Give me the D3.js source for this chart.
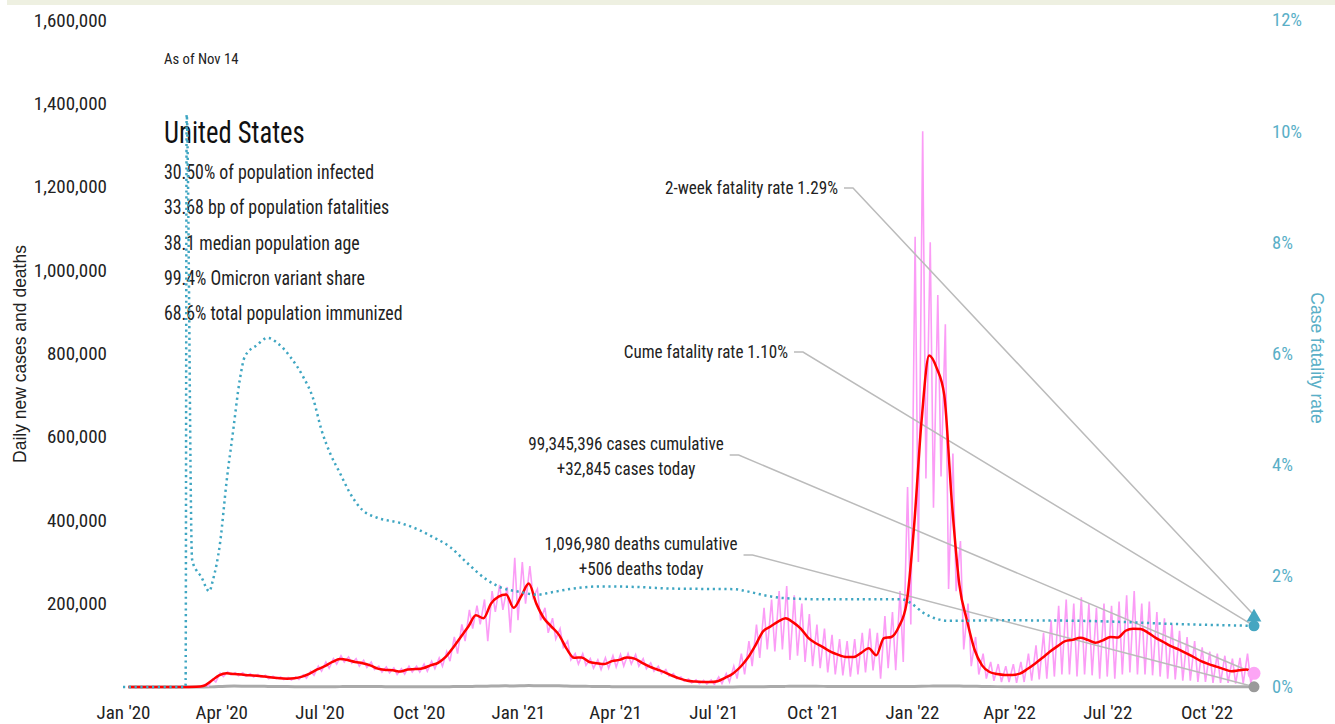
<!DOCTYPE html>
<html>
<head>
<meta charset="utf-8">
<script src="https://cdn.jsdelivr.net/npm/d3@7"></script>
<style>
  body { margin: 0; background: #fff; }
  text { font-family: "Liberation Sans Narrow", "Roboto Condensed", "DejaVu Sans Condensed", sans-serif; }
  .title { font-family: "Liberation Sans", Arial, sans-serif; }
</style>
</head>
<body>
<div id="chart"></div>
<script>
// ---- data (thousands, weekly from Mon 6 Jan 2020) ----
const casesAvg = [
  0,0,0,0,0,0,0,0,              // Jan-Feb 2020
  0.1,0.5,3,15,28,              // Mar
  33,31,30,28,                  // Apr
  27,25,23,21,                  // May
  20,21,25,32,42,               // Jun
  50,60,67,65,                  // Jul
  60,57,52,44,41,               // Aug
  40,37,42,43,                  // Sep
  45,52,58,72,                  // Oct
  95,120,145,172,165,           // Nov
  200,217,222,190,              // Dec
  218,248,200,165,              // Jan 2021
  145,125,92,70,                // Feb
  71,60,57,55,62,               // Mar
  65,71,68,58,                  // Apr
  49,42,35,27,20,               // May
  15,13,12,12,                  // Jun
  14,22,32,48,                  // Jul
  70,100,133,145,157,           // Aug
  165,155,140,118,              // Sep
  105,95,84,77,                 // Oct
  72,72,82,93,76,               // Nov
  117,120,145,200,              // Dec
  385,640,795,765,700,          // Jan 2022
  444,245,160,90,               // Feb
  52,36,31,29,                  // Mar
  29,32,43,56,                  // Apr
  70,85,98,110,113,             // May
  118,113,106,112,              // Jun
  120,119,135,140,              // Jul
  139,130,118,108,98,           // Aug
  90,81,72,62,                  // Sep
  55,49,43,38,40,               // Oct
  42,34                         // Nov
];

// daily cases: weekly high and weekly low (thousands)
const casesHigh = [
  0,0,0,0,0,0,0,0,
  0.3,1,6,19,33,
  36,34,34,32,
  30,28,26,24,
  23,24,29,38,50,
  60,68,75,72,
  68,64,60,50,48,
  46,44,50,50,
  55,62,70,85,
  120,150,185,195,210,
  230,245,240,310,
  300,290,235,190,
  165,140,110,80,
  80,68,65,70,75,
  78,80,78,68,
  58,50,42,32,24,
  19,17,16,17,
  24,32,50,80,
  110,150,190,210,230,
  242,220,200,175,
  150,140,125,115,
  110,115,130,140,130,
  170,180,230,480,
  1080,1333,1067,940,870,
  560,350,200,120,
  80,60,55,50,
  55,60,80,100,
  130,160,195,210,200,
  215,200,190,200,
  195,205,220,230,
  200,205,180,165,150,
  135,120,110,95,
  85,80,75,68,70,
  80
];
const casesLow = [
  0,0,0,0,0,0,0,0,
  0,0.3,2,12,25,
  29,27,26,24,
  23,20,20,18,
  17,18,21,28,38,
  45,55,60,57,
  50,47,42,36,34,
  30,31,36,36,
  38,44,50,62,
  80,110,140,150,110,
  180,185,130,160,
  200,215,160,130,
  115,95,65,55,
  52,45,42,45,48,
  50,55,50,44,
  38,32,26,20,14,
  10,8,7,6,
  8,12,20,30,
  50,70,90,85,90,
  65,75,60,50,
  45,35,30,28,
  25,30,35,40,20,
  45,40,60,150,
  300,500,430,505,235,
  230,90,50,30,
  20,15,12,12,
  10,12,15,18,
  20,25,30,30,25,
  30,28,20,25,
  20,30,35,30,
  30,28,25,20,18,
  15,15,12,12,
  10,10,10,8,8,
  10
];

const deathsAvg = [
  0,0,0,0,0,0,0,0,
  0,0.01,0.05,0.3,1.0,
  1.9,2.2,2.1,1.9,
  1.8,1.6,1.3,1.1,
  0.95,0.85,0.7,0.6,0.55,
  0.6,0.75,0.9,1.1,
  1.1,1.05,1.05,0.95,0.9,
  0.8,0.8,0.75,0.72,
  0.7,0.72,0.78,0.82,
  0.95,1.1,1.4,1.6,1.9,
  2.3,2.6,2.7,2.5,
  2.8,3.3,3.2,3.1,
  2.9,2.7,2.2,2.0,
  1.8,1.5,1.2,1.0,0.9,
  0.8,0.75,0.73,0.7,
  0.68,0.65,0.6,0.55,0.45,
  0.4,0.35,0.3,0.25,
  0.22,0.25,0.27,0.35,
  0.45,0.6,0.8,1.0,1.3,
  1.5,1.8,2.0,1.9,
  1.7,1.5,1.4,1.25,
  1.15,1.1,1.1,1.1,1.0,
  1.2,1.3,1.3,1.25,
  1.4,1.8,2.1,2.3,2.6,
  2.5,2.3,1.9,1.6,
  1.3,1.1,0.9,0.75,
  0.6,0.5,0.4,0.35,
  0.33,0.33,0.33,0.35,0.35,
  0.33,0.33,0.32,0.35,
  0.38,0.42,0.43,0.44,
  0.45,0.47,0.48,0.47,0.45,
  0.42,0.42,0.42,0.40,
  0.38,0.37,0.36,0.35,0.35,
  0.33,0.3
];

// case fatality rate (%)
const cfrDates = [
  "2020-01-01","2020-02-28","2020-02-29","2020-03-05","2020-03-09","2020-03-13",
  "2020-03-21","2020-03-24","2020-03-31","2020-04-06","2020-04-12","2020-04-18",
  "2020-04-23","2020-05-04","2020-05-14","2020-05-23","2020-06-04","2020-06-16",
  "2020-06-25","2020-07-03","2020-07-11","2020-07-20","2020-07-29","2020-08-10",
  "2020-08-23","2020-09-14","2020-10-02","2020-10-14","2020-10-30","2020-11-15",
  "2020-12-03","2020-12-15","2021-01-03","2021-01-19","2021-01-31","2021-02-21",
  "2021-03-18","2021-04-20","2021-05-25","2021-07-20","2021-08-04","2021-08-20",
  "2021-09-04","2021-10-06","2021-12-22","2021-12-31","2022-01-12","2022-01-25",
  "2022-02-03","2022-03-22","2022-06-08","2022-09-08","2022-11-14"
];
const cfrValues = [
  0,0,10.3,2.3,2.1,2.0,
  1.72,1.9,2.6,3.7,4.6,5.5,
  5.95,6.15,6.28,6.19,5.94,5.58,
  5.2,4.62,4.2,3.85,3.5,3.18,
  3.05,2.95,2.82,2.7,2.52,2.23,
  1.93,1.8,1.71,1.66,1.7,1.77,
  1.81,1.8,1.77,1.76,1.71,1.64,
  1.6,1.58,1.58,1.51,1.33,1.22,
  1.19,1.2,1.19,1.13,1.1
];

const yTicks = [200000, 400000, 600000, 800000, 1000000, 1200000, 1400000, 1600000];
const rTicks = [0, 2, 4, 6, 8, 10, 12];

const asOf = "As of Nov 14";
const country = "United States";
const stats = [
  "30.50% of population infected",
  "33.68 bp of population fatalities",
  "38.1 median population age",
  "99.4% Omicron variant share",
  "68.6% total population immunized"
];

const casesToday = 32845, casesCum = 99345396;
const deathsToday = 506, deathsCum = 1096980;
const cumeRate = 1.10, twoWeekRate = 1.29;

// ---- setup ----
const width = 1335, height = 724;
const parse = d3.timeParse("%Y-%m-%d");
const startDate = parse("2020-01-01");
const endDate = parse("2022-11-14");
const weekStart = parse("2020-01-06");

const svg = d3.select("#chart").append("svg")
  .attr("width", width)
  .attr("height", height);

svg.append("rect")
  .attr("x", 7).attr("y", 0)
  .attr("width", width - 7).attr("height", 5)
  .attr("fill", "#eef0e1");

const x = d3.scaleTime().domain([startDate, endDate]).range([123, 1254]);
const y = d3.scaleLinear().domain([0, 1600000]).range([687, 20]);
const yR = d3.scaleLinear().domain([0, 12]).range([687, 20]);

const weeks = casesAvg.map((v, i) => d3.timeDay.offset(weekStart, 7 * i));

// condensed text helper: squeeze glyphs horizontally
function label(parent, tx, ty, str, size, sx, anchor, fill) {
  return parent.append("text")
    .attr("transform", `translate(${tx},${ty}) scale(${sx},1)`)
    .attr("text-anchor", anchor || "start")
    .style("font-size", size + "px")
    .attr("fill", fill || "#222")
    .text(str);
}

// axes
const gy = svg.append("g")
  .attr("transform", "translate(107,0)")
  .call(d3.axisLeft(y).tickValues(yTicks).tickFormat(d3.format(",")).tickSize(0).tickPadding(0));
gy.select(".domain").remove();
gy.selectAll("text").style("font-size", "19px").attr("fill", "#222");

const gr = svg.append("g")
  .attr("transform", "translate(1272,0)")
  .call(d3.axisRight(yR).tickValues(rTicks).tickFormat(d => d + "%").tickSize(0).tickPadding(0));
gr.select(".domain").remove();
gr.selectAll("text").style("font-size", "18.5px").attr("fill", "#5aafc7");

const gx = svg.append("g")
  .attr("transform", "translate(0,705)")
  .call(d3.axisBottom(x).ticks(d3.timeMonth.every(3)).tickFormat(d3.timeFormat("%b '%y")).tickSize(0).tickPadding(0));
gx.select(".domain").remove();
gx.selectAll("text").style("font-size", "19px").attr("fill", "#222");

// axis titles
svg.append("text")
  .attr("class", "title")
  .attr("transform", "translate(26,354) rotate(-90)")
  .attr("text-anchor", "middle")
  .style("font-size", "17.5px")
  .attr("fill", "#222")
  .text("Daily new cases and deaths");

svg.append("text")
  .attr("class", "title")
  .attr("transform", "translate(1311,358) rotate(90)")
  .attr("text-anchor", "middle")
  .style("font-size", "17.5px")
  .attr("fill", "#5aafc7")
  .text("Case fatality rate");

// header text
label(svg, 164, 64, asOf, 15, 0.98);
label(svg, 164, 143, country, 31, 0.86, "start", "#111");
stats.forEach((s, i) => label(svg, 164, 179 + i * 35.3, s, 21, 0.85));

// lines
const deathsLine = d3.line()
  .x((d, i) => x(weeks[i]))
  .y(d => y(d * 1000))
  .curve(d3.curveMonotoneX);
svg.append("path")
  .datum(deathsAvg)
  .attr("fill", "none")
  .attr("stroke", "#aaa")
  .attr("stroke-width", 3)
  .attr("d", deathsLine);

const daily = [];
casesHigh.forEach((h, i) => {
  daily.push({ d: d3.timeDay.offset(weeks[i], 1), v: h });
  daily.push({ d: d3.timeDay.offset(weeks[i], 4), v: casesLow[i] });
});
daily.push({ d: endDate, v: casesToday / 1000 });

svg.append("path")
  .datum(daily)
  .attr("fill", "none")
  .attr("stroke", "#fb9cf6")
  .attr("stroke-width", 1.6)
  .attr("d", d3.line().x(d => x(d.d)).y(d => y(d.v * 1000)));

// leader lines + annotations
const endX = x(endDate);
const notes = [
  { lines: ["2-week fatality rate 1.29%"], anchor: "end", tx: 838, ty: 194, ex: endX, ey: yR(twoWeekRate) },
  { lines: ["Cume fatality rate 1.10%"], anchor: "end", tx: 788, ty: 358, ex: endX, ey: yR(cumeRate) },
  { lines: [d3.format(",")(casesCum) + " cases cumulative", "+" + d3.format(",")(casesToday) + " cases today"],
    anchor: "middle", tx: 626, ty: 450, ex: endX, ey: y(casesToday) },
  { lines: [d3.format(",")(deathsCum) + " deaths cumulative", "+" + deathsToday + " deaths today"],
    anchor: "middle", tx: 641, ty: 550, ex: endX, ey: y(deathsToday) }
];

const leaders = svg.append("g");
notes.forEach(n => {
  const g = svg.append("g");
  n.lines.forEach((t, i) => label(g, n.tx, n.ty + i * 25, t, 18.4, 0.93, n.anchor));
  const bb = g.node().getBBox();
  const sx = bb.x + bb.width + 6;
  const sy = n.lines.length > 1 ? n.ty + 5 : n.ty - 6;
  leaders.append("path")
    .attr("fill", "none")
    .attr("stroke", "#bbb")
    .attr("stroke-width", 1.5)
    .attr("d", `M${sx},${sy}H${sx + 9}L${n.ex},${n.ey}`);
});

svg.append("path")
  .datum(casesAvg)
  .attr("fill", "none")
  .attr("stroke", "#ff0000")
  .attr("stroke-width", 2.5)
  .attr("d", d3.line()
    .x((d, i) => x(weeks[i]))
    .y(d => y(d * 1000))
    .curve(d3.curveMonotoneX));

const cfr = cfrDates.map((d, i) => ({ d: parse(d), v: cfrValues[i] }));
svg.append("path")
  .datum(cfr)
  .attr("fill", "none")
  .attr("stroke", "#3fa6c2")
  .attr("stroke-width", 2.5)
  .attr("stroke-dasharray", "2.2,3.6")
  .attr("d", d3.line().x(d => x(d.d)).y(d => yR(d.v)).curve(d3.curveMonotoneX));

// end markers
svg.append("circle").attr("cx", endX).attr("cy", y(deathsToday)).attr("r", 5.5).attr("fill", "#9a9a9a");
svg.append("circle").attr("cx", endX).attr("cy", y(casesToday)).attr("r", 6.5).attr("fill", "#fca5f5");
svg.append("circle").attr("cx", endX).attr("cy", yR(cumeRate)).attr("r", 5.5).attr("fill", "#45a6c1");
svg.append("path")
  .attr("transform", `translate(${endX},${yR(twoWeekRate) + 2})`)
  .attr("d", d3.symbol(d3.symbolTriangle, 95)())
  .attr("fill", "#45a6c1");
</script>
</body>
</html>
